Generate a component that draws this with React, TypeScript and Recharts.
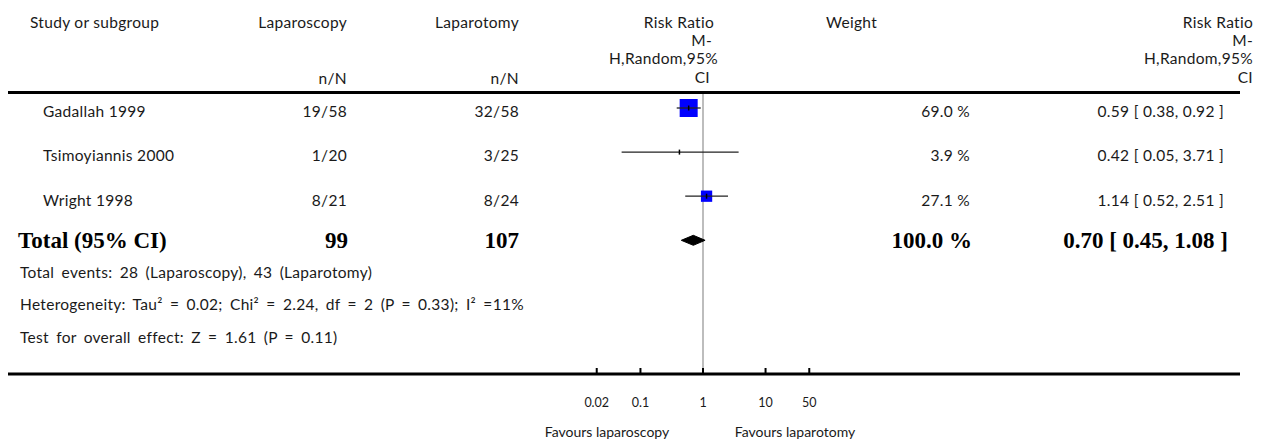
import React from 'react';
import { ComposedChart, Scatter, XAxis, YAxis, ZAxis, ReferenceLine } from 'recharts';

// ---------- data ----------
const studyNames = ['Gadallah 1999', 'Tsimoyiannis 2000', 'Wright 1998'];
const lapEvents = [19, 1, 8];
const lapTotals = [58, 20, 21];
const otomyEvents = [32, 3, 8];
const otomyTotals = [58, 25, 24];
const riskRatios = [0.59, 0.42, 1.14];
const ciLower = [0.38, 0.05, 0.52];
const ciUpper = [0.92, 3.71, 2.51];
const weights = [69.0, 3.9, 27.1];

const totalLap = 99;
const totalOtomy = 107;
const totalWeight = 100.0;
const totalRR = 0.7;
const totalLower = 0.45;
const totalUpper = 1.08;

const axisTicks = [0.02, 0.1, 1, 10, 50];
const footerLines = [
  'Total events: 28 (Laparoscopy), 43 (Laparotomy)',
  'Heterogeneity: Tau\u00b2 = 0.02; Chi\u00b2 = 2.24, df = 2 (P = 0.33); I\u00b2 =11%',
  'Test for overall effect: Z = 1.61 (P = 0.11)',
];
const favoursLeft = 'Favours laparoscopy';
const favoursRight = 'Favours laparotomy';

// ---------- layout ----------
const W = 1250;
const H = 432;
const PLOT_TOP = 84;
const PLOT_RIGHT = 18;
const AXIS_H = 66;
const PX_PER_DECADE = 62.55;
const ONE_X = 695;
const PLOT_W = W - PLOT_RIGHT;
const xDomain = [Math.pow(10, -ONE_X / PX_PER_DECADE), Math.pow(10, (PLOT_W - ONE_X) / PX_PER_DECADE)];
const ROW_PX = 44.1;
const FIRST_ROW_PX = 100;
const PLOT_H = H - AXIS_H - PLOT_TOP;
const yMin = 1 - (FIRST_ROW_PX - PLOT_TOP) / ROW_PX;
const yDomain = [yMin, yMin + PLOT_H / ROW_PX];

const SANS = "Lato, 'Open Sans', sans-serif";
const SERIF = "'Liberation Serif', 'DejaVu Serif', serif";
const TEXT_COLOR = '#1a1a1a';
const BODY = 15.5;
const BOLD = 23;

const squareData = studyNames.map((_, i) => ({ x: riskRatios[i], y: i + 1, z: weights[i] }));
const ciData = studyNames.map((_, i) => [
  { x: ciLower[i], y: i + 1 },
  { x: ciUpper[i], y: i + 1 },
]);
const totalRow = studyNames.length + 1;
const diamondData = [
  { x: totalLower, y: totalRow },
  { x: totalRR, y: totalRow },
  { x: totalUpper, y: totalRow },
];

const fmt2 = (v: number) => v.toFixed(2);
const ciText = (rr: number, lo: number, hi: number) => `${fmt2(rr)} [ ${fmt2(lo)}, ${fmt2(hi)} ]`;

// ---------- text helper ----------
type TProps = {
  x: number;
  y: number;
  align?: 'left' | 'right' | 'center';
  size?: number;
  bold?: boolean;
  wordSpacing?: number;
  letterSpacing?: number;
  children: React.ReactNode;
};
const T = ({ x, y, align = 'left', size = BODY, bold = false, wordSpacing = 0, letterSpacing, children }: TProps) => {
  const lh = size * 1.3;
  const style: React.CSSProperties = {
    position: 'absolute',
    top: y - lh / 2,
    lineHeight: `${lh}px`,
    fontSize: size,
    fontFamily: bold ? SERIF : SANS,
    fontWeight: bold ? 700 : 400,
    color: bold ? '#000' : TEXT_COLOR,
    whiteSpace: 'nowrap',
    letterSpacing: letterSpacing !== undefined ? letterSpacing : bold ? 0 : 0.3,
    wordSpacing,
  };
  if (align === 'left') style.left = x;
  else if (align === 'right') style.right = W - x;
  else {
    style.left = x - 200;
    style.width = 400;
    style.textAlign = 'center';
  }
  return <div style={style}>{children}</div>;
};

// ---------- chart shapes ----------
const SquareShape = (p: any) => {
  const { cx, cy, width } = p;
  if (!(width >= 5)) return <g />;
  return <rect x={cx - width / 2} y={cy - width / 2} width={width} height={width} fill="#0000ff" />;
};
const EstimateTick = (p: any) => {
  const { cx, cy } = p;
  return <line x1={cx} x2={cx} y1={cy - 2.5} y2={cy + 2.5} stroke="#000" strokeWidth={1.5} />;
};
const NoShape = () => <g />;
const DiamondLine = (p: any) => {
  const pts = p.points || [];
  if (pts.length < 3) return <g />;
  const [l, m, r] = pts;
  const d = `M${l.x},${l.y} L${m.x},${m.y - 5} L${r.x},${r.y} L${m.x},${m.y + 5} Z`;
  return <path d={d} fill="#000" stroke="#000" strokeWidth={1} />;
};
const AxisTick = (p: any) => {
  const { x, y, payload } = p;
  return (
    <g>
      <line x1={x} x2={x} y1={y - 6} y2={y} stroke="#000" strokeWidth={2} />
      <text x={x} y={y + 33} textAnchor="middle" fontFamily={SANS} fontSize={12.5} fill={TEXT_COLOR}>
        {String(payload.value)}
      </text>
    </g>
  );
};

export default function App() {
  const rowTextY = (i: number) => FIRST_ROW_PX + 3 + i * 44.5;
  const headLines = ['Risk Ratio', 'M-', 'H,Random,95%', 'CI'];
  const headY = [14, 32, 50, 69];
  const midRight = [706, 704, 710, 702];
  return (
    <div style={{ position: 'relative', width: W, height: H }}>
      <div style={{ position: 'absolute', left: 0, top: 0 }}>
        <ComposedChart
          width={W}
          height={H}
          margin={{ top: PLOT_TOP, right: PLOT_RIGHT, bottom: 0, left: 0 }}
        >
          <XAxis
            type="number"
            dataKey="x"
            scale="log"
            domain={xDomain}
            allowDataOverflow
            ticks={axisTicks}
            interval={0}
            height={AXIS_H}
            tickSize={0}
            tickMargin={0}
            tickLine={false}
            axisLine={{ stroke: '#000', strokeWidth: 3 }}
            tick={AxisTick}
          />
          <YAxis type="number" dataKey="y" domain={yDomain} allowDataOverflow reversed hide width={0} />
          <ZAxis zAxisId="w" type="number" dataKey="z" domain={[0, 100]} range={[0, 368.8]} />
          <ReferenceLine x={1} stroke="#bdbdbd" strokeWidth={2} ifOverflow="extendDomain" />
          <Scatter data={squareData} zAxisId="w" shape={SquareShape} isAnimationActive={false} />
          {ciData.map((d, i) => (
            <Scatter
              key={i}
              data={d}
              line={{ stroke: '#222', strokeWidth: 1.3 }}
              shape={NoShape}
              isAnimationActive={false}
            />
          ))}
          <Scatter data={squareData} shape={EstimateTick} isAnimationActive={false} />
          <Scatter data={diamondData} line={DiamondLine} shape={NoShape} isAnimationActive={false} />
        </ComposedChart>
      </div>

      {/* header rule */}
      <div style={{ position: 'absolute', left: 0, top: 83, width: PLOT_W, height: 3, background: '#000' }} />

      {/* header */}
      <T x={22} y={14}>Study or subgroup</T>
      <T x={339} y={14} align="right">Laparoscopy</T>
      <T x={511} y={14} align="right">Laparotomy</T>
      <T x={339} y={70} align="right">n/N</T>
      <T x={511} y={70} align="right">n/N</T>
      {headLines.map((s, i) => (
        <T key={'m' + i} x={midRight[i]} y={headY[i]} align="right">{s}</T>
      ))}
      <T x={818} y={14}>Weight</T>
      {headLines.map((s, i) => (
        <T key={'r' + i} x={1245} y={headY[i]} align="right">{s}</T>
      ))}

      {/* study rows */}
      {studyNames.map((name, i) => (
        <React.Fragment key={name}>
          <T x={35} y={rowTextY(i)}>{name}</T>
          <T x={339} y={rowTextY(i)} align="right">{`${lapEvents[i]}/${lapTotals[i]}`}</T>
          <T x={511} y={rowTextY(i)} align="right">{`${otomyEvents[i]}/${otomyTotals[i]}`}</T>
          <T x={962} y={rowTextY(i)} align="right">{`${weights[i].toFixed(1)} %`}</T>
          <T x={1216} y={rowTextY(i)} align="right">{ciText(riskRatios[i], ciLower[i], ciUpper[i])}</T>
        </React.Fragment>
      ))}

      {/* total row */}
      <T x={10} y={233} bold size={BOLD}>Total (95% CI)</T>
      <T x={340} y={233} bold size={BOLD} align="right">{String(totalLap)}</T>
      <T x={511} y={233} bold size={BOLD} align="right">{String(totalOtomy)}</T>
      <T x={964} y={233} bold size={BOLD} align="right">{`${totalWeight.toFixed(1)} %`}</T>
      <T x={1220} y={233} bold size={BOLD} align="right">{ciText(totalRR, totalLower, totalUpper)}</T>

      {/* footer */}
      {footerLines.map((s, i) => (
        <T key={'f' + i} x={12} y={264 + i * 32.5} wordSpacing={3}>{s}</T>
      ))}

      <T x={599} y={424} align="center" size={14} letterSpacing={0}>{favoursLeft}</T>
      <T x={787} y={424} align="center" size={14} letterSpacing={0}>{favoursRight}</T>
    </div>
  );
}
